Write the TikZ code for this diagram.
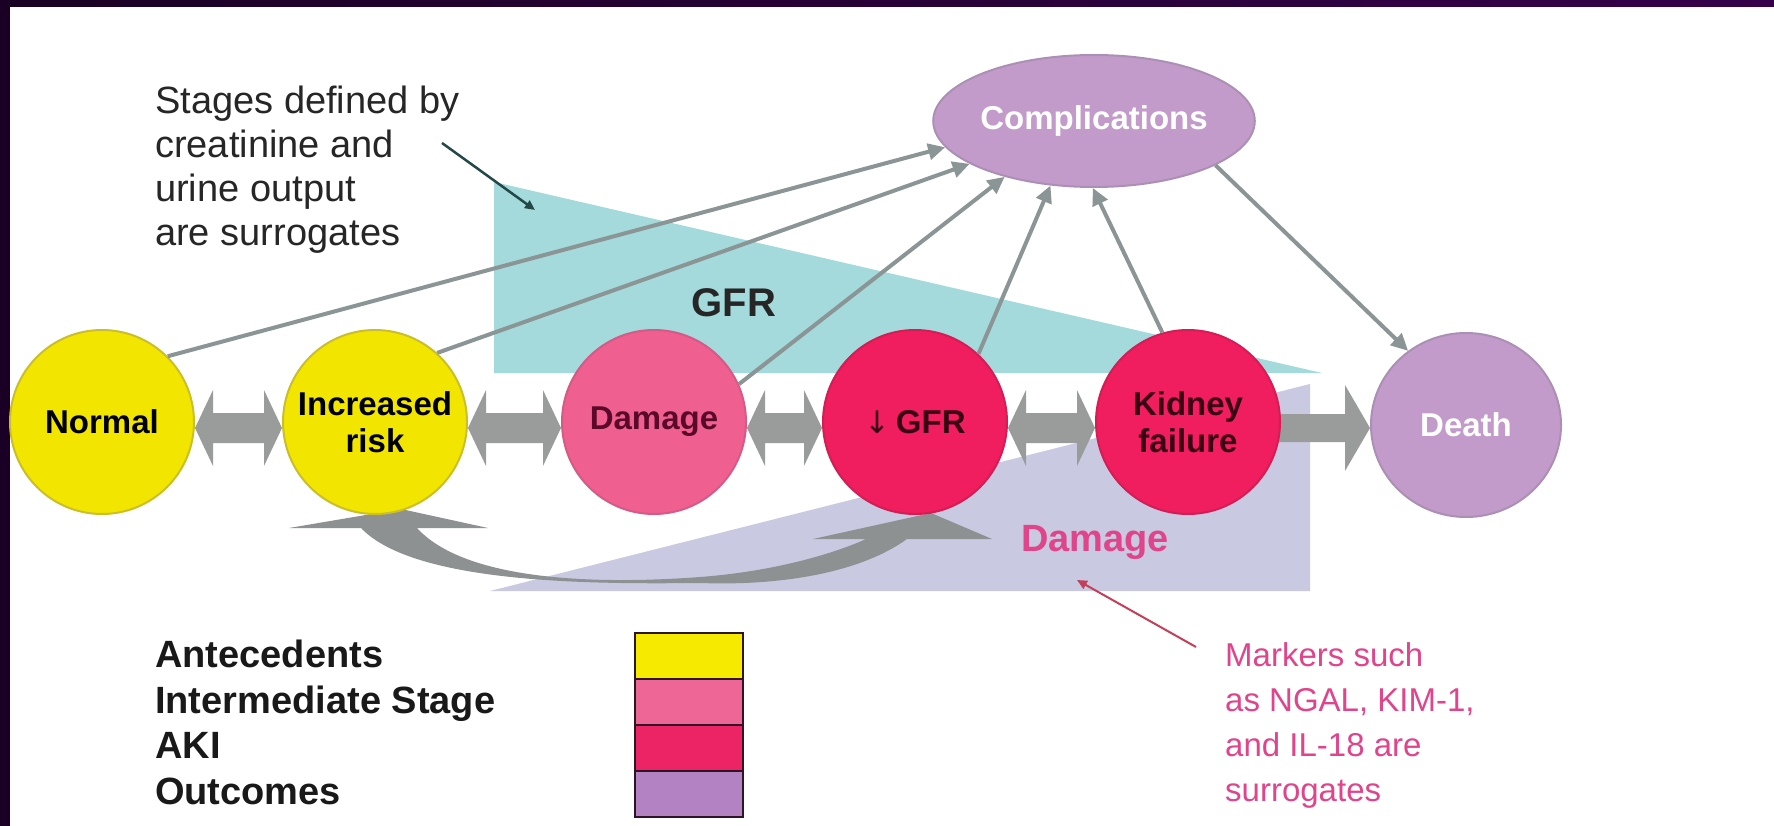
\documentclass[tikz,border=0pt]{standalone}
\usepackage{fontspec}
\setmainfont{Liberation Sans}
\newfontfamily\symfont{DejaVu Sans}
\usetikzlibrary{shapes.geometric,arrows.meta,calc}
\pgfdeclarelayer{back}
\pgfdeclarelayer{mid}
\pgfsetlayers{back,mid,main}

\definecolor{frameA}{HTML}{1A0024}
\definecolor{frameB}{HTML}{36004A}
\definecolor{tealtri}{HTML}{A4DADB}
\definecolor{lavtri}{HTML}{C9C9E2}
\definecolor{blockgray}{HTML}{9A9C9C}
\definecolor{curvegray}{HTML}{8E9192}
\definecolor{linegray}{HTML}{8C9595}
\definecolor{cyel}{HTML}{F2E600}
\definecolor{cyelrim}{HTML}{CABF2A}
\definecolor{cpink}{HTML}{EF5F8F}
\definecolor{cpinkrim}{HTML}{D65A86}
\definecolor{ccrim}{HTML}{F01E5E}
\definecolor{ccrimrim}{HTML}{D41C55}
\definecolor{cpurp}{HTML}{C29BCB}
\definecolor{cpurprim}{HTML}{AC8FB4}
\definecolor{txtdark}{HTML}{262626}
\definecolor{darkmaroon}{HTML}{5A0A28}
\definecolor{crimtext}{HTML}{3A0014}
\definecolor{pinktext}{HTML}{E0448A}
\definecolor{pointerteal}{HTML}{244848}
\definecolor{pointerred}{HTML}{C2405A}
\definecolor{legyel}{HTML}{F5EA00}
\definecolor{legpink}{HTML}{EE6696}
\definecolor{legcrim}{HTML}{EC2466}
\definecolor{legpurp}{HTML}{B282C2}
\definecolor{legrim}{HTML}{2E1424}

\tikzset{
  stage/.style={circle, minimum size=184pt, inner sep=0pt, line width=2pt,
    align=center, font=\bfseries\fontsize{33}{37}\selectfont},
  yelstage/.style={stage, fill=cyel, draw=cyelrim, text=black},
  pinkstage/.style={stage, fill=cpink, draw=cpinkrim, text=darkmaroon},
  crimstage/.style={stage, fill=ccrim, draw=ccrimrim, text=crimtext},
  purpstage/.style={ellipse, inner sep=0pt, line width=2pt, fill=cpurp, draw=cpurprim,
    text=white, font=\bfseries\fontsize{33}{37}\selectfont},
  linkarrow/.style={draw=linegray, line width=4pt, -{Triangle[length=17pt,width=16pt]}},
  pointerline/.style={line width=2.5pt, -{Triangle[length=10pt,width=9pt]}},
  legbox/.style={rectangle, minimum width=108pt, minimum height=46pt, inner sep=0pt,
    draw=legrim, line width=2.5pt},
  blockfill/.style={fill=blockgray},
}

\newcommand{\dblblock}[2]{%
  \fill[blockfill] ([yshift=-6pt]#1.east) -- ++(18,-38) -- ++(0,23)
    -- ($([yshift=-6pt]#2.west)+(-18,-15)$) -- ++(0,-23)
    -- ([yshift=-6pt]#2.west) -- ++(-18,38) -- ++(0,-23)
    -- ($([yshift=-6pt]#1.east)+(18,15)$) -- ++(0,23) -- cycle;}

\begin{document}
\begin{tikzpicture}[x=1pt,y=-1pt]
\useasboundingbox (0,0) rectangle (1774,826);

% nodes
\node[yelstage] (normal) at (102,422) {Normal};
\node[yelstage] (inc) at (375,422) {Increased\\risk};
\node[pinkstage] (dam) at (654,422) {Damage};
\node[crimstage] (gfr) at (915,422) {{\symfont\mdseries\fontsize{31}{31}\selectfont ↓}\,GFR};
\node[crimstage] (kid) at (1188,422) {Kidney\\failure};
\node[purpstage, minimum width=190pt, minimum height=184pt] (death) at (1466,425) {Death};
\node[purpstage, minimum width=302pt, minimum height=132pt] (comp) at (1094,121) {Complications};

% background: frame and triangles
\begin{pgfonlayer}{back}
  \fill[white] (0,0) rectangle (1774,826);
  \shade[left color=frameA, right color=frameB] (0,0) rectangle (1774,7);
  \fill[frameA] (0,0) rectangle (10,826);
  \fill[tealtri] (494,182) -- (494,373) -- (1322,373) -- cycle;
  \fill[lavtri] (490,591) -- (1310,384) -- (1310,591) -- cycle;
\end{pgfonlayer}

% block arrows
\begin{pgfonlayer}{mid}
  \dblblock{normal}{inc}
  \dblblock{inc}{dam}
  \dblblock{dam}{gfr}
  \dblblock{gfr}{kid}
  \fill[blockfill] ([xshift=-10pt,yshift=-6pt]kid.east) -- ++(0,-14)
    -- ($([yshift=-3pt]death.west)+(-25,-14)$) -- ++(0,-29)
    -- ([yshift=-3pt]death.west) -- ++(-25,43) -- ++(0,-29)
    -- ($([xshift=-10pt,yshift=-6pt]kid.east)+(0,14)$) -- cycle;
  % curved double arrow between increased risk and reduced GFR
  \fill[curvegray] ($(inc.south)+(-86,13)$) -- ($(inc.south)+(26,-6)$)
    -- ($(inc.south)+(113,13)$) -- ($(inc.south)+(42,13)$)
    .. controls ($(inc.south)+(95,71)$) and ($(inc.south)+(245,68)$) .. ($(inc.south)+(325,62)$)
    .. controls ($(gfr.south)+(-135,56)$) and ($(gfr.south)+(-75,36)$) .. ($(gfr.south)+(-49,24)$)
    -- ($(gfr.south)+(-102,24)$) -- ($(gfr.south)+(16,-2)$) -- ($(gfr.south)+(77,24)$)
    -- ($(gfr.south)+(-8,24)$)
    .. controls ($(gfr.south)+(-55,58)$) and ($(gfr.south)+(-135,71)$) .. ($(inc.south)+(325,68)$)
    .. controls ($(inc.south)+(225,69)$) and ($(inc.south)+(40,70)$) .. ($(inc.south)+(-14,13)$)
    -- cycle;
\end{pgfonlayer}

% labels on triangles
\node[font=\bfseries\fontsize{40}{44}\selectfont, text=txtdark] (gfrlabel) at (734,303) {GFR};
\node[font=\bfseries\fontsize{38}{42}\selectfont, text=pinktext] (damlabel) at (1095,542) {Damage};

% arrows to complications
\draw[linkarrow] (normal.45) -- (comp.190);
\draw[linkarrow] (inc.48) -- (comp.199);
\draw[linkarrow] (dam.24) -- (comp.212);
\draw[linkarrow] (gfr.47) -- (comp.236);
\draw[linkarrow] (kid.106) -- (comp.269);
\draw[linkarrow] (comp.340) -- (death.128);

% annotation texts
\node[anchor=north west, inner sep=0pt, align=left, text=txtdark,
  font=\fontsize{38}{44}\selectfont] (stages) at (155,86)
  {Stages defined by\\creatinine and\\urine output\\are surrogates};
\coordinate (sp1) at (442,143);
\coordinate (sp2) at (535,210);
\draw[pointerline, draw=pointerteal, fill=pointerteal] (sp1) -- (sp2);

\node[anchor=north west, inner sep=0pt, align=left, text=pinktext,
  font=\fontsize{33}{45}\selectfont] (markers) at (1225,642)
  {Markers such\\as NGAL, KIM-1,\\and IL-18 are\\surrogates};
\coordinate (mp1) at (1196,647);
\coordinate (mp2) at (1077,580);
\draw[pointerline, draw=pointerred, fill=pointerred, line width=2pt] (mp1) -- (mp2);

% legend
\node[anchor=north west, inner sep=0pt, align=left, text=black!90,
  font=\bfseries\fontsize{38}{45.5}\selectfont] (legend) at (155,640)
  {Antecedents\\Intermediate Stage\\AKI\\Outcomes};
\node[legbox, fill=legyel] (lb1) at (689,656) {};
\node[legbox, fill=legpink] (lb2) at (689,702) {};
\node[legbox, fill=legcrim] (lb3) at (689,748) {};
\node[legbox, fill=legpurp] (lb4) at (689,794) {};
\end{tikzpicture}
\end{document}
